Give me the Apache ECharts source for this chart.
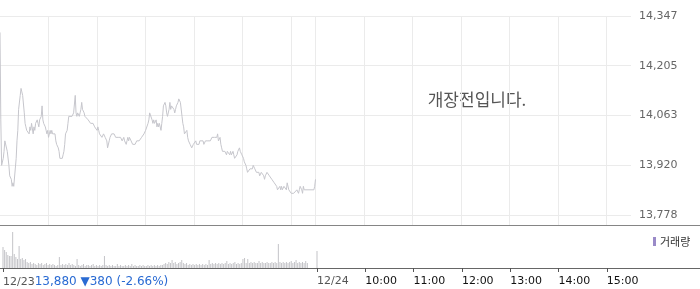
<!DOCTYPE html>
<html><head><meta charset="utf-8">
<script src="https://cdn.jsdelivr.net/npm/echarts@6/dist/echarts.min.js"></script>
<style>html,body{margin:0;padding:0;background:#fff}#c{width:700px;height:289px}</style>
</head><body><div id="c"></div>
<script>
// ---- data ----
const sessionDates = ['12/23', '12/24'];
const openHour = 9;
const sessionLength = 390; // minutes 09:00-15:30
const priceTicks = [13778, 13920, 14063, 14205, 14347];
const lastPrice = 13880;
const priceChange = -380;
const priceChangePct = -2.66;
const statusText = '개장전입니다.';
const volumeName = '거래량';
// [minutes since 12/23 09:00, price]
const pricePoints = [
[0,14300],[1,14050],[2,13920],[4,13940],[5,13960],[6,13990],[7,13990],[9,13960],[10,13960],[11,13920],
[12,13890],[14,13880],[15,13860],[16,13870],[17,13860],[19,13860],[20,13940],[21,13990],[22,14020],[23,14080],
[25,14120],[26,14140],[27,14130],[28,14120],[30,14070],[31,14040],[32,14030],[33,14020],[35,14020],[36,14010],
[37,14030],[38,14020],[39,14040],[41,14010],[42,14030],[43,14020],[44,14040],[46,14050],[47,14040],[48,14030],
[49,14050],[51,14060],[52,14090],[53,14050],[54,14040],[56,14030],[57,14020],[58,14010],[59,14020],[60,14000],
[62,14020],[63,14010],[64,14020],[65,14010],[67,14010],[68,14010],[69,13990],[70,13980],[72,13970],[73,13960],
[74,13940],[75,13940],[77,13940],[78,13950],[79,13960],[80,13980],[81,14010],[83,14020],[84,14040],[85,14060],
[86,14060],[89,14060],[90,14060],[91,14070],[93,14120],[94,14070],[95,14060],[96,14070],[98,14060],[99,14070],
[100,14080],[101,14100],[102,14080],[104,14070],[105,14060],[106,14060],[107,14060],[109,14050],[110,14050],[111,14050],
[112,14040],[114,14040],[115,14040],[116,14040],[117,14030],[118,14030],[120,14020],[121,14030],[122,14020],[123,14010],
[125,14010],[126,14000],[127,14000],[128,14010],[130,14000],[131,14000],[132,13990],[133,13970],[135,13990],[136,14000],
[137,14000],[138,14010],[139,14010],[141,14010],[142,14010],[143,14000],[144,14000],[146,14000],[147,14000],[148,14000],
[149,14000],[151,13990],[152,13990],[153,14000],[154,13990],[156,13980],[157,13990],[158,14000],[159,13990],[160,14000],
[162,13990],[163,13990],[164,13980],[165,13980],[167,13980],[168,13980],[169,13990],[170,13990],[172,13990],[173,13990],
[174,13990],[175,14000],[176,14000],[178,14010],[179,14010],[180,14020],[181,14020],[183,14040],[184,14050],[185,14070],
[186,14070],[188,14050],[189,14040],[190,14050],[191,14040],[193,14050],[194,14030],[195,14040],[196,14030],[197,14040],
[199,14020],[200,14040],[201,14060],[202,14090],[204,14100],[205,14090],[206,14070],[207,14060],[209,14080],[210,14100],
[211,14080],[212,14090],[214,14090],[215,14080],[216,14070],[217,14080],[218,14090],[220,14100],[221,14110],[222,14110],
[223,14100],[225,14060],[226,14040],[227,14030],[228,14010],[230,14010],[231,14020],[232,14000],[233,13990],[235,13980],
[236,13980],[237,13970],[238,13970],[239,13980],[241,13980],[242,13990],[243,13980],[244,13980],[246,13980],[247,13990],
[248,13990],[249,13990],[251,13990],[252,13980],[253,13980],[254,13990],[255,13990],[257,13990],[258,13990],[259,13990],
[260,13990],[262,14000],[263,14000],[264,14000],[265,14000],[267,14000],[268,14000],[269,14010],[270,13990],[272,14000],
[273,13980],[274,13970],[275,13960],[276,13960],[278,13960],[279,13960],[280,13950],[281,13960],[283,13960],[284,13950],
[285,13960],[286,13950],[288,13960],[289,13950],[290,13940],[291,13940],[293,13950],[294,13960],[295,13960],[296,13970],
[297,13960],[299,13950],[300,13950],[301,13940],[302,13930],[304,13920],[305,13910],[306,13900],[307,13900],[309,13910],
[310,13910],[311,13910],[312,13910],[313,13920],[315,13910],[316,13910],[317,13900],[318,13900],[320,13900],[321,13890],
[322,13890],[323,13900],[325,13900],[326,13890],[327,13880],[328,13890],[330,13900],[331,13900],[332,13900],[333,13890],
[334,13890],[336,13880],[337,13880],[338,13880],[339,13870],[341,13870],[342,13860],[343,13850],[344,13850],[346,13860],
[347,13850],[348,13860],[349,13850],[351,13860],[352,13860],[353,13860],[354,13850],[355,13870],[357,13850],[358,13850],
[359,13850],[360,13840],[362,13840],[363,13840],[364,13840],[365,13840],[367,13850],[368,13850],[369,13840],[370,13850],
[371,13860],[373,13850],[374,13840],[375,13860],[376,13850],[388,13850],[389,13860],[390,13880]
];
// volume (thousand shares) per 2-minute bucket starting 12/23 09:00
const volumeBuckets = [
21,18,16,13,12,12,36,14,11,9,
22,9,10,8,9,6,5,6,4,5,
4,3,5,4,5,3,4,5,3,4,
3,4,3,2,3,11,3,4,3,4,
3,5,3,4,3,2,9,3,2,3,
4,2,3,3,2,3,4,2,3,2,
3,2,3,12,3,2,3,2,3,2,
2,4,2,3,2,2,3,2,3,2,
4,2,3,2,2,3,2,3,2,2,
3,2,3,2,3,2,3,2,3,3,
4,5,4,6,5,8,5,6,4,5,
6,8,5,4,5,3,4,3,4,3,
4,3,4,3,4,3,4,3,8,4,
5,4,5,4,5,4,5,4,5,7,
4,5,4,5,6,4,5,4,5,9,
10,5,9,5,6,5,6,5,5,7,
5,6,5,5,6,5,5,6,5,6,
5,24,6,5,6,5,6,5,6,7,
5,6,8,5,6,5,6,5,7,5,
0,0,0,0,0,17
];
const volumeBucketMinutes = 2;
const volumeAxisMax = 42;

// ---- build ----
function pad(n){ return (n < 10 ? '0' : '') + n; }
const categories = [];
for (let d = 0; d < sessionDates.length; d++) {
  const n = sessionLength + (d === sessionDates.length - 1 ? 1 : 0);
  for (let m = 0; m < n; m++) {
    categories.push(sessionDates[d] + ' ' + pad(openHour + Math.floor(m / 60)) + ':' + pad(m % 60));
  }
}
const lastIndex = categories.length - 1;
function isHourMark(i) {
  const m = i % sessionLength;
  return i < lastIndex && m !== 0 && m % 60 === 0;
}
function isSessionStart(i) { return i < lastIndex && i % sessionLength === 0; }
function fmt(n) { return String(Math.round(n)).replace(/\B(?=(\d{3})+(?!\d))/g, ','); }

const volumeData = volumeBuckets.map((v, i) => [i * volumeBucketMinutes, v]);
const quoteText = fmt(lastPrice) + ' ' + (priceChange < 0 ? '▼' : '▲') + fmt(Math.abs(priceChange)) +
  ' (' + priceChangePct.toFixed(2) + '%)';

const FONT = '"DejaVu Sans", sans-serif';
const chart = echarts.init(document.getElementById('c'), null, {renderer: 'canvas'});
chart.setOption({
  animation: false,
  backgroundColor: '#fff',
  grid: [
    {left: 0, right: 69, top: 16, height: 209},
    {left: 0, right: 69, top: 226, height: 42}
  ],
  legend: {
    left: 648, top: 231, itemWidth: 3, itemHeight: 9, itemGap: 0, icon: 'rect',
    textStyle: {fontFamily: '"Noto Sans CJK KR", sans-serif', fontSize: 11, color: '#333', padding: [0,0,0,-1]},
    data: [{name: volumeName, itemStyle: {color: '#9a8ac8'}}],
    selectedMode: false
  },
  xAxis: [
    {
      type: 'category', gridIndex: 0, data: categories, boundaryGap: false,
      axisLine: {show: false}, axisTick: {show: false}, axisLabel: {show: false},
      splitLine: {show: true, interval: (i) => isHourMark(i) || (i === sessionLength),
        lineStyle: {color: '#ebebeb', width: 1}}
    },
    {
      type: 'category', gridIndex: 1, data: categories, boundaryGap: false,
      axisLine: {show: true, lineStyle: {color: '#666', width: 1}},
      axisTick: {show: true, length: 4, interval: (i) => isSessionStart(i) || (i > sessionLength && isHourMark(i)),
        lineStyle: {color: '#555'}},
      splitLine: {show: false},
      axisLabel: {
        show: true, align: 'left', margin: 8,
        interval: (i) => isSessionStart(i) || (i > sessionLength && isHourMark(i)),
        formatter: function (value, index) {
          const parts = value.split(' ');
          if (index === 0) return '{d|' + parts[0] + '}{q|' + quoteText + '}';
          if (index % sessionLength === 0) return '{d|' + parts[0] + '}';
          return '{t|' + parts[1] + '}';
        },
        rich: {
          d: {fontFamily: FONT, fontSize: 11, color: '#555'},
          t: {fontFamily: FONT, fontSize: 11, color: '#111'},
          q: {fontFamily: FONT, fontSize: 12, color: '#2a6bd3'}
        }
      }
    }
  ],
  yAxis: [
    {
      type: 'value', gridIndex: 0, position: 'right',
      min: 13749.4, max: priceTicks[priceTicks.length - 1],
      axisLine: {show: false},
      axisTick: {show: false, customValues: priceTicks},
      axisLabel: {show: true, margin: 8, customValues: priceTicks, formatter: (v) => fmt(v),
        fontFamily: FONT, fontSize: 11, color: '#666'},
      splitLine: {show: true, lineStyle: {color: '#ebebeb', width: 1}}
    },
    {
      type: 'value', gridIndex: 1, min: 0, max: volumeAxisMax, show: false,
      splitLine: {show: false}
    }
  ],
  series: [
    {
      type: 'line', xAxisIndex: 0, yAxisIndex: 0, data: pricePoints,
      showSymbol: false, symbol: 'none',
      lineStyle: {color: '#c6c6cc', width: 1}, z: 3
    },
    {
      name: volumeName, type: 'bar', xAxisIndex: 1, yAxisIndex: 1, data: volumeData,
      barWidth: 1, itemStyle: {color: '#c4c4c8'}
    }
  ],
  graphic: [
    {type: 'line', shape: {x1: 0, y1: 225.5, x2: 700, y2: 225.5}, style: {stroke: '#858585', lineWidth: 1}, silent: true},
    {type: 'line', shape: {x1: 0, y1: 268.5, x2: 700, y2: 268.5}, style: {stroke: '#666', lineWidth: 1}, silent: true},
    {type: 'text', x: 477, y: 100, silent: true,
      style: {text: statusText, fontFamily: '"Noto Sans CJK KR", sans-serif', fontSize: 17,
        fill: '#555', align: 'center', verticalAlign: 'middle'}}
  ]
});
</script></body></html>
